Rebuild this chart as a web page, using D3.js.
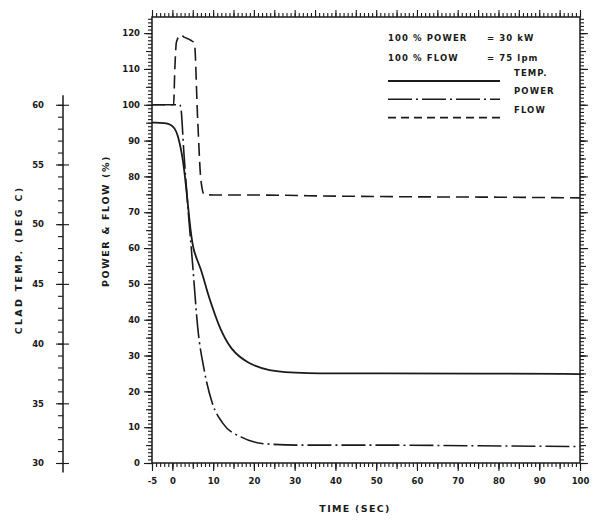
<!DOCTYPE html>
<html>
<head>
<meta charset="utf-8">
<script src="https://cdn.jsdelivr.net/npm/d3@7"></script>
<style>
  body { margin: 0; background: #fff; }
  svg { display: block; }
  text { font-family: "DejaVu Sans", "Liberation Sans", sans-serif; font-weight: bold; fill: #1a1a1a; }
  .axis path, .axis line { stroke: #1a1a1a; }
</style>
</head>
<body>
<script>
// time in seconds
let flowTime  = [-5, 0.3, 0.6, 1.0, 2.0, 3.0, 4.5, 5.4, 6.2, 7.0, 7.8, 10, 20, 40, 60, 80, 100];
let flowPct   = [100, 100, 110, 117.5, 119.5, 118.8, 118, 117.2, 96, 79, 75, 74.8, 74.8, 74.5, 74.3, 74.2, 74];

let powerTime = [-5, 1.8, 2.1, 2.8, 3.7, 5.0, 6.2, 7.8, 9.8, 12.3, 16.8, 23.3, 31.5, 50, 75, 100];
let powerPct  = [100, 100, 99, 87, 73, 55, 38, 26, 16.7, 11.2, 7.3, 5.3, 5.0, 5.0, 4.8, 4.6];

let tempTime  = [-5, 0, 1.3, 2.5, 3.3, 4.1, 5.0, 7.0, 8.6, 10.7, 11.5, 14.3, 18.4, 23.3, 31.5, 50, 75, 100];
let tempDeg   = [58.5, 58.5, 57.6, 55.7, 53.4, 50.6, 47.7, 46.4, 44.2, 42.2, 41.4, 39.45, 38.37, 37.7, 37.5, 37.5, 37.5, 37.45];

let timeTicks  = [-5, 0, 10, 20, 30, 40, 50, 60, 70, 80, 90, 100];
let pctTicks   = [0, 10, 20, 30, 40, 50, 60, 70, 80, 90, 100, 110, 120];
let tempTicks  = [30, 35, 40, 45, 50, 55, 60];

let legendNotes = [["100 % POWER", "= 30 kW"], ["100 % FLOW", "= 75 lpm"]];
let legendNames = ["TEMP.", "POWER", "FLOW"];

init();

function init() {
  let width = 599, height = 523;
  let svg = d3.select("body").append("svg")
              .attr("width", width)
              .attr("height", height);

  let x = d3.scaleLinear().domain([-5, 100]).range([152, 580]);
  let y = d3.scaleLinear().domain([0, 124.5]).range([463, 17]);
  let yTemp = d3.scaleLinear().domain([30, 60]).range([y(0), y(100)]);

  let styles = {
    temp:  {dash: null, w: 1.8, curve: d3.curveBasis},
    power: {dash: "24,4,2,4", w: 1.6, curve: d3.curveMonotoneX},
    flow:  {dash: "13,6", w: 1.6, curve: d3.curveMonotoneX}
  };

  // frame
  svg.append("rect")
     .attr("x", x(-5)).attr("y", y(124.5))
     .attr("width", x(100) - x(-5)).attr("height", y(0) - y(124.5))
     .attr("fill", "none").attr("stroke", "#1a1a1a").attr("stroke-width", 1.5);

  // ticks on four sides: minor, medium, major
  let addAxis = (gen, scale, vals, size, tx, ty, fmt) => {
    let g = svg.append("g").attr("class", "axis")
               .attr("transform", `translate(${tx},${ty})`)
               .call(gen(scale).tickValues(vals).tickSize(size).tickPadding(4)
                     .tickFormat(fmt || (() => "")));
    g.select(".domain").remove();
    g.selectAll("line").attr("stroke-width", 1.1);
    return g;
  };

  let plain = d => String(d);
  let xMinor = d3.range(-5, 101, 1), xMid = d3.range(-5, 101, 5);
  let yMinor = d3.range(0, 125, 1), yMid = d3.range(0, 125, 5);

  addAxis(d3.axisBottom, x, xMinor, 4, 0, y(0));
  addAxis(d3.axisBottom, x, xMid, 6, 0, y(0));
  let bx = addAxis(d3.axisBottom, x, timeTicks, 8, 0, y(0), plain);
  bx.selectAll("text").attr("font-size", 8.5).attr("dy", "1.1em");

  addAxis(d3.axisTop, x, xMinor, 4, 0, y(124.5));
  addAxis(d3.axisTop, x, xMid, 7, 0, y(124.5));

  addAxis(d3.axisLeft, y, yMinor, 4, x(-5), 0);
  addAxis(d3.axisLeft, y, yMid, 6, x(-5), 0);
  let ly = addAxis(d3.axisLeft, y, pctTicks, 8, x(-5), 0, plain);
  ly.selectAll("text").attr("font-size", 8.5);

  addAxis(d3.axisRight, y, yMinor, 4, x(100), 0);
  addAxis(d3.axisRight, y, yMid, 6, x(100), 0);
  addAxis(d3.axisRight, y, pctTicks, 8, x(100), 0);

  // clad temperature axis
  let tx = 63;
  svg.append("line")
     .attr("x1", tx).attr("x2", tx)
     .attr("y1", yTemp(60.8)).attr("y2", yTemp(29.2))
     .attr("stroke", "#1a1a1a").attr("stroke-width", 1.5);
  addAxis(d3.axisLeft, yTemp, d3.range(30, 61, 1), 5, tx, 0);
  let ty = addAxis(d3.axisLeft, yTemp, tempTicks, 7, tx, 0, plain);
  ty.selectAll("text").attr("font-size", 8.5).attr("dx", "-8");
  addAxis(d3.axisRight, yTemp, tempTicks, 6, tx, 0);

  // axis titles
  svg.append("text")
     .attr("transform", `translate(22,260) rotate(-90)`)
     .attr("text-anchor", "middle").attr("font-size", 9.5)
     .attr("letter-spacing", 2.3)
     .text("CLAD TEMP. (DEG C)");

  svg.append("text")
     .attr("transform", `translate(109,221) rotate(-90)`)
     .attr("text-anchor", "middle").attr("font-size", 9.5)
     .attr("letter-spacing", 1.6)
     .text("POWER & FLOW (%)");

  svg.append("text")
     .attr("x", 355).attr("y", 512)
     .attr("text-anchor", "middle").attr("font-size", 9.5)
     .attr("letter-spacing", 1.3)
     .text("TIME (SEC)");

  // curves
  let zip = (a, b) => a.map((v, i) => [v, b[i]]);

  let curves = [
    {key: "flow",  pts: zip(flowTime, flowPct),   ys: y},
    {key: "power", pts: zip(powerTime, powerPct), ys: y},
    {key: "temp",  pts: zip(tempTime, tempDeg),   ys: yTemp}
  ];

  svg.selectAll(".curve")
     .data(curves)
     .enter()
     .append("path")
     .attr("class", "curve")
     .attr("d", d => d3.line().x(p => x(p[0])).y(p => d.ys(p[1])).curve(styles[d.key].curve)(d.pts))
     .attr("fill", "none")
     .attr("stroke", "#1a1a1a")
     .attr("stroke-width", d => styles[d.key].w)
     .attr("stroke-dasharray", d => styles[d.key].dash);

  // legend
  let notes = svg.append("g").attr("font-size", 8.5).attr("letter-spacing", 1.1);
  legendNotes.forEach((n, i) => {
    notes.append("text").attr("x", 388).attr("y", 40.5 + i * 20).text(n[0]);
    notes.append("text").attr("x", 487).attr("y", 40.5 + i * 20).text(n[1]);
  });

  let keys = ["temp", "power", "flow"];
  legendNames.forEach((name, i) => {
    let ly0 = 81 + i * 18.3;
    svg.append("line")
       .attr("x1", 388).attr("x2", 500)
       .attr("y1", ly0).attr("y2", ly0)
       .attr("stroke", "#1a1a1a")
       .attr("stroke-width", styles[keys[i]].w)
       .attr("stroke-dasharray", keys[i] == "flow" ? "8,5" : styles[keys[i]].dash);
    svg.append("text")
       .attr("x", 514).attr("y", ly0 - 5)
       .attr("font-size", 8.5)
       .attr("letter-spacing", 1.1)
       .text(name);
  });
}
</script>
</body>
</html>
